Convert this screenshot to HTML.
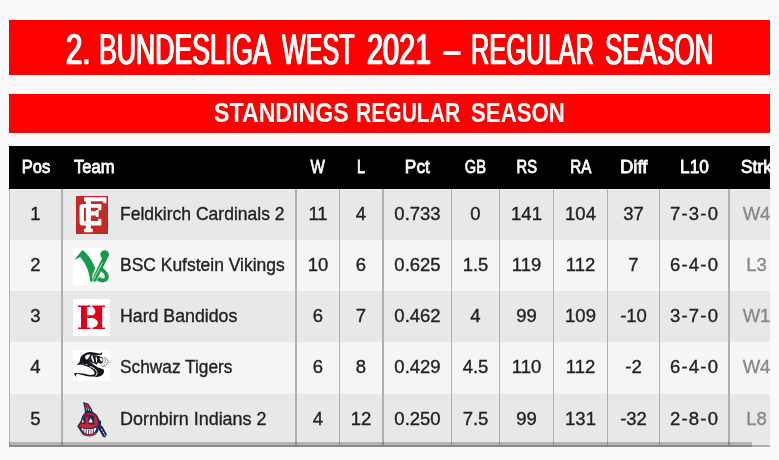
<!DOCTYPE html>
<html lang="de"><head><meta charset="utf-8"><title>2. Bundesliga West 2021 – Regular Season</title>
<style>
:root{--ft:"Liberation Sans", sans-serif;--fb:"Liberation Sans", sans-serif}
html,body{margin:0;padding:0}
body{background:#fafafa;width:779px;height:460px;overflow:hidden;position:relative;font-family:var(--fb);color:#222}
.title{position:absolute;left:9px;top:20px;width:761px;height:55px;background:#f00;margin:0;color:#fff;font-family:var(--ft);font-weight:400;font-size:43px;line-height:55px;text-align:center;white-space:nowrap;outline:1px solid #fff;overflow:hidden}
.title span{text-rendering:geometricPrecision;display:block;position:absolute;top:2.6px;-webkit-text-stroke:.5px #fff;text-shadow:1px 0 0 #fff,-1px 0 0 #fff;transform-origin:0 50%}
.sub{position:absolute;left:9px;top:94px;width:761px;height:39px;background:#f00;margin:0;color:#fff;font-family:var(--fb);font-weight:700;font-size:27px;line-height:39px;text-align:center;white-space:nowrap;outline:1px solid #fff;overflow:hidden}
.sub span{display:block;position:absolute;top:0;transform-origin:0 50%}
.wrap{position:absolute;left:9px;top:146px;width:761px;height:301px;overflow:hidden}
.tbl{position:absolute;left:0;top:0;width:790px;height:301px}
.lline{position:absolute;left:0;top:43px;width:1px;height:258px;background:#b0b0b0}
.hd{position:absolute;left:0;top:0;width:790px;height:43px;background:#000;color:#fff;font-weight:400;font-size:18.5px;line-height:42px}
.hd .c{border-right:0 solid transparent}
.hd .b1{border-right-width:1px}
.hd .b2{border-right-width:2px}
.hd span{position:relative;top:-1px;-webkit-text-stroke:.8px #fff}
.tr{position:absolute;left:0;width:790px;font-size:18.5px}
.tr span{position:relative;top:-1px;-webkit-text-stroke:.35px currentColor}
.tr.odd{background:#e8e8e8}
.tr.even{background:#f5f5f5}
.tr:nth-child(2){box-shadow:inset 0 1px 0 #f3f3f3}
.c{position:absolute;top:0;height:100%;box-sizing:border-box;text-align:center;white-space:nowrap;display:flex;align-items:center;justify-content:center}
.tr .b1{border-right:1px solid #b0b0b0}
.tr .b2{border-right:2px solid #b0b0b0}
.c1{justify-content:flex-start}
.c1 span{transform-origin:0 50%}
.hd .c1 span{margin-left:11px}
.tr .c1 span{margin-left:56.5px}
.tr .c10{color:#888}
.tr .c9 span{letter-spacing:1.2px;margin-right:-1.2px}
.logo{position:absolute}
.logo svg{display:block}
.bline{position:absolute;left:0;top:299px;width:761px;height:2px;background:#b0b0b0}
.thumb{position:absolute;left:0;top:296px;width:743px;height:5px;background:rgba(0,0,0,.22)}
</style></head><body>
<h1 class="title"><span style="left:56.59px;transform:scaleX(0.6823)">2.</span> <span style="left:90.02px;transform:scaleX(0.6191)">BUNDESLIGA</span> <span style="left:273.33px;transform:scaleX(0.5836)">WEST</span> <span style="left:358.00px;transform:scaleX(0.6706)">2021</span> <span style="left:435.23px;transform:scaleX(0.6679)">–</span> <span style="left:462.27px;transform:scaleX(0.5908)">REGULAR</span> <span style="left:596.35px;transform:scaleX(0.6051)">SEASON</span></h1>
<h2 class="sub"><span style="left:204.90px;transform:scaleX(0.8584)">STANDINGS</span> <span style="left:347.22px;transform:scaleX(0.7803)">REGULAR</span> <span style="left:461.70px;transform:scaleX(0.8238)">SEASON</span></h2>
<div class="wrap"><div class="tbl">
<div class="hd"><div class="c c0 b2" style="left:1px;width:53px"><span style="transform:scaleX(0.8941)">Pos</span></div><div class="c c1 b2" style="left:54px;width:234px"><span style="transform:scaleX(0.8942)">Team</span></div><div class="c c2 b1" style="left:288px;width:43px"><span style="transform:scaleX(0.8191)">W</span></div><div class="c c3 b2" style="left:331px;width:44px"><span style="transform:scaleX(0.7857)">L</span></div><div class="c c4 b1" style="left:375px;width:68px"><span style="transform:scaleX(0.9360)">Pct</span></div><div class="c c5 b1" style="left:443px;width:48px"><span style="transform:scaleX(0.7907)">GB</span></div><div class="c c6 b1" style="left:491px;width:54px"><span style="transform:scaleX(0.7989)">RS</span></div><div class="c c7 b1" style="left:545px;width:54px"><span style="transform:scaleX(0.8219)">RA</span></div><div class="c c8 b1" style="left:599px;width:52px"><span style="transform:scaleX(1.0080)">Diff</span></div><div class="c c9 b2" style="left:651px;width:70px"><span style="transform:scaleX(0.9316)">L10</span></div><div class="c c10 b1" style="left:721px;width:54px"><span style="transform:scaleX(0.9582)">Strk</span></div></div>
<div class="tr odd" style="top:43px;height:51px"><div class="c c0 b2" style="left:1px;width:53px"><span>1</span></div><div class="c c1 b2" style="left:54px;width:234px"><div class="logo" style="left:13px;top:7px;width:32px;height:38px"><svg viewBox="0 0 32 38" width="32" height="38"><rect width="32" height="38" fill="#c42a25"/><g fill="#fff"><path d="M6.8 8H25.4V14.2H22.2V11.8H8V24.9H22.2V22.8H25.4V29.5H6.8Q3.6 29.5 3.6 26.3V11.2Q3.6 8 6.8 8Z"/><path d="M8 1.2H30.4V7.3H27.2V5.2H14.9V15.3H19.8V13.9H22.6V20.9H19.8V19.5H14.9V32.7H16.7V36.3H8V32.7H9.9V5.2H8Z"/></g></svg></div><span style="transform:scaleX(0.9468)">Feldkirch Cardinals 2</span></div><div class="c c2 b1" style="left:288px;width:43px"><span>11</span></div><div class="c c3 b2" style="left:331px;width:44px"><span>4</span></div><div class="c c4 b1" style="left:375px;width:68px"><span>0.733</span></div><div class="c c5 b1" style="left:443px;width:48px"><span>0</span></div><div class="c c6 b1" style="left:491px;width:54px"><span>141</span></div><div class="c c7 b1" style="left:545px;width:54px"><span>104</span></div><div class="c c8 b1" style="left:599px;width:52px"><span>37</span></div><div class="c c9 b2" style="left:651px;width:70px"><span>7-3-0</span></div><div class="c c10 b1" style="left:721px;width:54px"><span>W4</span></div></div>
<div class="tr even" style="top:94px;height:51px"><div class="c c0 b2" style="left:1px;width:53px"><span>2</span></div><div class="c c1 b2" style="left:54px;width:234px"><div class="logo" style="left:10px;top:8px;width:37px;height:37px"><svg viewBox="0 0 37 37" width="37" height="37"><rect width="37" height="37" fill="#fff"/><g fill="#169b48"><path d="M1.2 11.9L9.4 2C13.5 4.8 18.5 11 22.4 20.2L19.6 26.5L18.9 33.4L17 33.2C16.6 25.5 13.8 16.5 7.2 8.9Z"/><path d="M18.2 33.5L29.4 9.2L34.6 10.2L22.8 33.5Z"/><circle cx="31.7" cy="6.6" r="4.4"/><path d="M28.6 19.2C33 22 36.4 25.5 35.8 29.5C35.2 33.6 30.5 35.6 26.4 33.8L23.6 32.2L26.4 28.6C28 30.6 30.6 31.2 31.6 29.4C32.6 27.4 30 24.6 27 22.6Z"/></g><path d="M19.6 33.5L29.4 14.5" stroke="#fff" stroke-width=".7" fill="none"/></svg></div><span style="transform:scaleX(0.9439)">BSC Kufstein Vikings</span></div><div class="c c2 b1" style="left:288px;width:43px"><span>10</span></div><div class="c c3 b2" style="left:331px;width:44px"><span>6</span></div><div class="c c4 b1" style="left:375px;width:68px"><span>0.625</span></div><div class="c c5 b1" style="left:443px;width:48px"><span>1.5</span></div><div class="c c6 b1" style="left:491px;width:54px"><span>119</span></div><div class="c c7 b1" style="left:545px;width:54px"><span>112</span></div><div class="c c8 b1" style="left:599px;width:52px"><span>7</span></div><div class="c c9 b2" style="left:651px;width:70px"><span>6-4-0</span></div><div class="c c10 b1" style="left:721px;width:54px"><span>L3</span></div></div>
<div class="tr odd" style="top:145px;height:51px"><div class="c c0 b2" style="left:1px;width:53px"><span>3</span></div><div class="c c1 b2" style="left:54px;width:234px"><div class="logo" style="left:10px;top:8px;width:37px;height:37px"><svg viewBox="0 0 37 37" width="37" height="37"><rect width="37" height="37" fill="#fff"/><g fill="#e1001a"><path d="M5 6.5H17.5V8H14.1V28.6H17.5V30.1H5V28.6H8V8H5Z"/><path d="M19.4 6.5H32.1V8H29.2V28.6H32.1V30.1H19.4V28.8C23 28 25 26.2 24.8 23.9C24.6 21.4 22 19.3 19 19H14.1V16.3H19C21.5 16 22.5 14 22.3 12.3C22 10 21 8.6 19.4 8Z"/></g></svg></div><span style="transform:scaleX(0.9585)">Hard Bandidos</span></div><div class="c c2 b1" style="left:288px;width:43px"><span>6</span></div><div class="c c3 b2" style="left:331px;width:44px"><span>7</span></div><div class="c c4 b1" style="left:375px;width:68px"><span>0.462</span></div><div class="c c5 b1" style="left:443px;width:48px"><span>4</span></div><div class="c c6 b1" style="left:491px;width:54px"><span>99</span></div><div class="c c7 b1" style="left:545px;width:54px"><span>109</span></div><div class="c c8 b1" style="left:599px;width:52px"><span>-10</span></div><div class="c c9 b2" style="left:651px;width:70px"><span>3-7-0</span></div><div class="c c10 b1" style="left:721px;width:54px"><span>W1</span></div></div>
<div class="tr even" style="top:196px;height:52px"><div class="c c0 b2" style="left:1px;width:53px"><span>4</span></div><div class="c c1 b2" style="left:54px;width:234px"><div class="logo" style="left:10px;top:8px;width:37px;height:31px"><svg viewBox="0 0 37 31" width="37" height="31"><rect width="37" height="31" fill="#fff"/><g fill="#17171b"><path d="M29.6 2L28.5 5C25 5.3 21 4.8 18 5.3L16 8.5L17.5 12.3C19 13.5 22 15.8 24.9 17.5C27 18.2 29.6 18.5 30.6 19.6C31.6 21 31.2 23.4 29 25.3C27 26.7 25 27.1 23.6 27C21 27 18.5 26.8 16.8 26.6C14 26.2 12 25.8 10.1 25.3C8 24.7 6 24.2 4 23.8L3 24.9L3.4 27.2L1.3 24.3L1 23.2C2 22.9 3 22.9 4 22.9C6 23 8 23.3 10.1 23.6C12.5 24 14.5 24.5 16.8 24.9C18 25 19.3 25 20.2 24.6C21.3 24.2 21.8 23.6 21.6 22.9C21.3 21.5 20.5 20.3 19.5 19.5C17.8 18 15.5 16.8 13.5 16.2C11.5 15.4 9.4 14.8 7.4 14.5L3.7 15.2L6.7 11.8C6.9 10.5 7 9.3 7.4 8.1C8 6.5 9 5.4 10.1 4.7C11.2 3.8 12.3 3.1 13.5 2.7C14.5 2.3 15.6 2.1 16.8 2C18.6 2 20.4 2.3 22.2 2.7C24 3.1 25.5 3.5 27 3.7Z"/><path d="M17.6 5.2L22.5 5.2L26 6L29.4 7.6L30.4 10L29.6 12.8L27.4 14L25.2 12.6L23.6 14.8L21.8 13.6L20.2 13.2L17.5 12.3L16 8.5Z"/></g><g fill="#fff"><path d="M12 6.6L13.6 4.9L17.4 4.3L16.9 5.6L15.2 8.2L14 9.8L12.3 8.5Z"/><path d="M18.2 6L19.6 5.8L20.6 9.6L21.4 12.6L20.2 12.2L18.6 9.4Z"/><path d="M22.6 6.6L23.6 6.8L24.2 9.6L24 12.2L23.4 12.8L22.8 10Z"/><path d="M26.4 7.4L29 8.2L29.8 10L29 12L27.4 10.6Z"/><path d="M9 14L15.6 14.2L13.4 14.9L9.4 13.4Z"/></g><path d="M16.8 16.5C20 17.4 23 19.4 23.8 21.5C24.4 23.3 23.6 25 22.2 26.3" stroke="#fff" stroke-width=".9" fill="none"/><path d="M30.6 7.4L33.6 8.6L35.4 11.4L34.6 13.6L32.4 15.8L29.2 16.6M31.4 9.6L33.2 10.8M31.2 12L33.6 12.4M30.4 14.2L32 14.6M28 15L29.4 16.6" stroke="#55555a" stroke-width=".7" fill="none"/></svg></div><span style="transform:scaleX(0.9345)">Schwaz Tigers</span></div><div class="c c2 b1" style="left:288px;width:43px"><span>6</span></div><div class="c c3 b2" style="left:331px;width:44px"><span>8</span></div><div class="c c4 b1" style="left:375px;width:68px"><span>0.429</span></div><div class="c c5 b1" style="left:443px;width:48px"><span>4.5</span></div><div class="c c6 b1" style="left:491px;width:54px"><span>110</span></div><div class="c c7 b1" style="left:545px;width:54px"><span>112</span></div><div class="c c8 b1" style="left:599px;width:52px"><span>-2</span></div><div class="c c9 b2" style="left:651px;width:70px"><span>6-4-0</span></div><div class="c c10 b1" style="left:721px;width:54px"><span>W4</span></div></div>
<div class="tr odd" style="top:248px;height:51px"><div class="c c0 b2" style="left:1px;width:53px"><span>5</span></div><div class="c c1 b2" style="left:54px;width:234px"><div class="logo" style="left:13px;top:7px;width:32px;height:38px"><svg viewBox="0 0 32 38" width="32" height="38"><path d="M7 .9L12.2 2.4C14.4 5 16.4 8.6 17.4 12.4L9 13C8.9 8.6 8 4.4 7 .9Z" fill="#1c2a55"/><path d="M8.6 2.4L11.8 3.4C12.8 4.6 13.6 5.8 14.2 7L10 6.2C9.6 4.8 9.2 3.6 8.6 2.4Z" fill="#d3202f"/><path d="M9.6 5.6L11 8.8L10.2 9.2ZM11.4 5.8L13.2 9.2L12.4 9.6ZM13.2 6.4L15 9.6L14.4 10Z" fill="#fff"/><path d="M11 10.8C17 9.8 21.8 13 23 18.6L25.2 20.4L24.8 24.6L23.2 25.4C23 29 21.8 31.6 19.4 33.4C15 36.4 8.8 35.8 5.8 32.2L1.2 25.2C2.8 22.6 4.6 20.6 5.4 18.4C6 14.4 7.8 11.8 11 10.8Z" fill="#1c2a55"/><path d="M11.4 12.4C16.2 11.6 20.4 14.4 21.6 19.2C22.4 23 22 26.6 20.6 29.4C19.4 31.8 17 33.6 14 34.2C11 34.6 8.4 33.6 6.8 31.4L2.8 25.2C4.2 23.2 6 21.2 6.8 18.8C7.4 15.4 8.8 13.2 11.4 12.4Z" fill="#d3202f"/><g fill="#1c2a55"><path d="M5.6 17.6L9.2 15.6L9.6 22.8L5 23.2Z"/><path d="M12.6 15.4L17.6 15.8L18.8 23.4L12.4 23.2Z"/><path d="M8.6 14.6C12 13.2 16.6 13.6 19 16.6L18 17.6C15.8 15.4 12 15 9.2 16Z"/><path d="M3.4 25.6C9 28.4 16 28 21.2 24.4L21.4 27C20.8 31 17.4 34 12.8 34C8.6 34 5.6 31 4.2 27Z"/></g><path d="M5.3 27C10 29 16 28.6 20.4 26.4C20 30.5 17 33 12.8 33C9 33 6.5 30.5 5.3 27Z" fill="#fff"/><path d="M7.8 28.2V31.8M10.2 28.6V32.8M12.6 28.8V33M15 28.6V32.8M17.4 28V31.8" stroke="#1c2a55" stroke-width=".9" fill="none"/><path d="M14.6 17L17 21.6H12.6Z" fill="#fff"/><path d="M6.8 18L7.8 21.4H5.8Z" fill="#fff"/><path d="M6.4 32.4C9.4 35.4 17 35.2 20 31.8" stroke="#d3202f" stroke-width="1.4" fill="none"/><path d="M23 24.1L26.3 25L31 33.4L29.1 36.4L26.8 35.8L23 28.8Z" fill="#1c2a55"/><path d="M25.2 27.8L26.2 29.4M26.8 30.6L27.8 32.2M28.2 33.2L29 34.6" stroke="#fff" stroke-width="1" fill="none"/></svg></div><span style="transform:scaleX(0.9688)">Dornbirn Indians 2</span></div><div class="c c2 b1" style="left:288px;width:43px"><span>4</span></div><div class="c c3 b2" style="left:331px;width:44px"><span>12</span></div><div class="c c4 b1" style="left:375px;width:68px"><span>0.250</span></div><div class="c c5 b1" style="left:443px;width:48px"><span>7.5</span></div><div class="c c6 b1" style="left:491px;width:54px"><span>99</span></div><div class="c c7 b1" style="left:545px;width:54px"><span>131</span></div><div class="c c8 b1" style="left:599px;width:52px"><span>-32</span></div><div class="c c9 b2" style="left:651px;width:70px"><span>2-8-0</span></div><div class="c c10 b1" style="left:721px;width:54px"><span>L8</span></div></div>
</div><div class="lline"></div><div class="bline"></div><div class="thumb"></div></div>
</body></html>
